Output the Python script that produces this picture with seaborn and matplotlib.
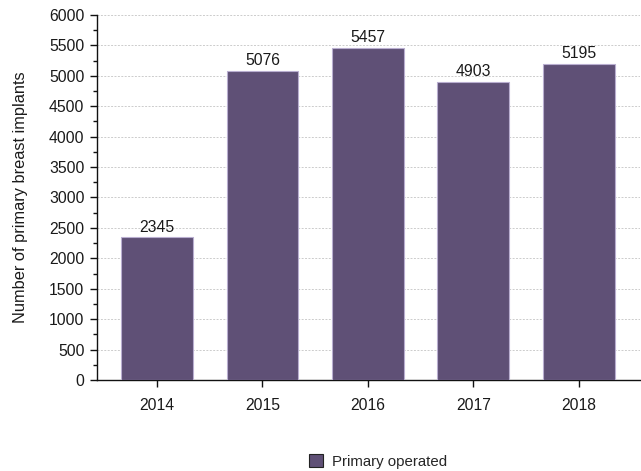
import matplotlib
matplotlib.use("Agg")
import matplotlib.pyplot as plt
import seaborn as sns
import pandas as pd
from matplotlib.ticker import MultipleLocator

years = ["2014", "2015", "2016", "2017", "2018"]
implants = [2345, 5076, 5457, 4903, 5195]
series_name = "Primary operated"

sns.set_style("white")
plt.rcParams["font.family"] = ["Liberation Sans", "DejaVu Sans"]

df = pd.DataFrame({"year": years, "count": implants, "group": series_name})

fig = plt.figure(figsize=(6.41, 4.71), dpi=100)
ax = fig.add_axes([0.1513, 0.1932, 0.847, 0.775])

bar_color = "#5e4a7c"
sns.barplot(data=df, x="year", y="count", hue="group", palette=[bar_color],
            width=0.68, edgecolor="#b9aed0", linewidth=0.8, ax=ax, zorder=3)

for p, v in zip(ax.patches, implants):
    ax.text(p.get_x() + p.get_width() / 2, v + 45, str(v),
            ha="center", va="bottom", fontsize=11.3, color="#1a1a1a")

ax.set_ylim(0, 6000)
ax.set_xlim(-0.57, 4.58)
ax.yaxis.set_major_locator(MultipleLocator(500))
ax.yaxis.set_minor_locator(MultipleLocator(250))
ax.grid(axis="y", which="major", linestyle=(0, (2, 1.5)), color="#cccccc", linewidth=0.7, zorder=0)
ax.set_axisbelow(True)

for s in ["top", "right"]:
    ax.spines[s].set_visible(False)
for s in ["left", "bottom"]:
    ax.spines[s].set_color("#111111")
    ax.spines[s].set_linewidth(1.0)

ax.tick_params(axis="both", which="major", direction="out", length=5, width=1,
               color="#111111", labelsize=11.3, labelcolor="#1a1a1a", left=True, bottom=True)
ax.tick_params(axis="y", which="minor", direction="out", length=3, width=1,
               color="#111111", left=True)
ax.tick_params(axis="x", pad=8)
ax.tick_params(axis="y", pad=4)

ax.set_xlabel("")
ax.set_ylabel("Number of primary breast implants", fontsize=11.8, color="#1a1a1a", labelpad=15)

leg = ax.legend(loc="lower center", bbox_to_anchor=(0.518, -0.28), frameon=False,
                fontsize=10.8, handlelength=0.9, handleheight=0.9, handletextpad=0.6)
for h in leg.legend_handles:
    h.set_edgecolor("#222222")
    h.set_linewidth(0.8)

fig.savefig("out.png", dpi=100)
